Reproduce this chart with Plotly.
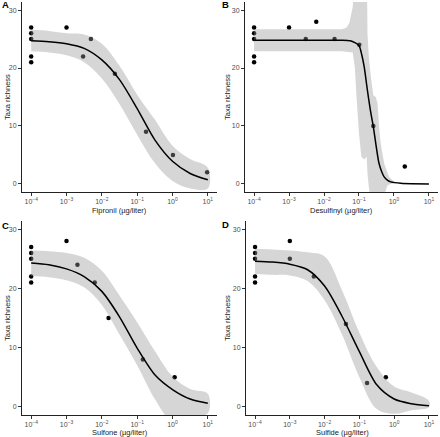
import plotly.graph_objects as go

# ---------------- data ----------------
panels = ["A", "B", "C", "D"]
x_titles = ["Fipronil (µg/liter)", "Desulfinyl (µg/liter)", "Sulfone (µg/liter)", "Sulfide (µg/liter)"]
y_title = "Taxa richness"

tick_vals = [1e-4, 1e-3, 1e-2, 1e-1, 1e0, 1e1]
tick_text = ["10<sup>−4</sup>", "10<sup>−3</sup>", "10<sup>−2</sup>", "10<sup>−1</sup>", "10<sup>0</sup>", "10<sup>1</sup>"]
y_tick_vals = [0, 10, 20, 30]

# observed points
a_pts_x = [1e-4, 1e-4, 1e-4, 1e-4, 1e-4, 1e-3, 0.00295, 0.0049, 0.0234, 0.178, 1.03, 9.55]
a_pts_y = [27, 26, 25, 22, 21, 27, 22, 25, 19, 9, 5, 2]
b_pts_x = [1e-4, 1e-4, 1e-4, 1e-4, 1e-4, 1e-3, 0.003, 0.006, 0.020, 0.102, 0.257, 2.04]
b_pts_y = [27, 26, 25, 22, 21, 27, 25, 28, 25, 24, 10, 3]
c_pts_x = [1e-4, 1e-4, 1e-4, 1e-4, 1e-4, 1e-3, 0.00204, 0.0063, 0.0155, 0.145, 1.15]
c_pts_y = [27, 26, 25, 22, 21, 28, 24, 21, 15, 8, 5]
d_pts_x = [1e-4, 1e-4, 1e-4, 1e-4, 1e-4, 1e-3, 1e-3, 0.0049, 0.041, 0.166, 0.575]
d_pts_y = [27, 26, 25, 22, 21, 28, 25, 22, 14, 4, 5]

# fitted curves and confidence bands (values read at grid concentrations)
grid_acd = [1e-4, 3.16e-4, 1e-3, 3.16e-3, 1e-2, 3.16e-2, 1e-1, 3.16e-1, 1e0, 3.16e0, 1e1]
a_fit = [24.7, 24.55, 24.2, 23.4, 21.4, 18.0, 13.0, 7.6, 3.9, 1.8, 0.7]
a_up = [26.6, 26.4, 26.0, 25.8, 24.2, 20.4, 15.4, 11.1, 6.6, 4.3, 2.8]
a_lo = [22.9, 22.7, 22.2, 21.0, 18.2, 13.8, 8.5, 3.6, 0.5, -0.8, -0.8]

c_fit = [24.3, 24.0, 23.3, 22.0, 19.5, 15.2, 9.9, 5.4, 2.9, 1.3, 0.6]
c_up = [26.4, 26.3, 26.0, 25.2, 23.0, 18.8, 14.3, 9.4, 5.1, 3.0, 2.2]
c_lo = [22.1, 21.9, 21.4, 20.2, 17.2, 12.2, 7.0, 1.3, -2.5, -1.8, -1.1]

d_fit = [24.6, 24.45, 24.1, 23.2, 20.4, 15.3, 9.3, 3.7, 1.3, 0.5, 0.15]
d_up = [26.7, 26.6, 26.4, 26.1, 25.4, 19.7, 12.5, 6.7, 3.4, 2.4, 1.0]
d_lo = [22.5, 22.3, 22.2, 21.3, 18.0, 12.2, 5.0, -0.4, -1.2, -0.6, -0.1]

b_fit_x = [1e-4, 1e-3, 1e-2, 0.0316, 0.0562, 0.0759, 0.100, 0.120, 0.141, 0.174,
           0.219, 0.257, 0.302, 0.372, 0.447, 0.525, 0.661, 0.813, 1.58, 3.16, 10.0]
b_fit = [24.8, 24.8, 24.8, 24.8, 24.7, 24.4, 23.9, 22.3, 20.2, 16.2,
         12.2, 9.9, 7.0, 3.6, 2.1, 1.2, 0.6, 0.35, 0.1, 0.02, 0.0]
b_band_x = [1e-4, 1e-3, 1e-2, 0.0316, 0.0427, 0.0525, 0.0661, 0.0759, 0.0851, 0.100,
            0.117, 0.141, 0.166, 0.175, 0.191, 0.219, 0.257, 0.302, 0.339, 0.376,
            0.417, 0.525, 0.646, 0.724, 1.0, 1.58, 3.16, 10.0]
b_up = [26.7, 26.7, 26.7, 26.7, 26.9, 27.7, 30.5, 40, 40, 40,
        40, 40, 40, 25.9, 22.0, 18.4, 15.3, 15.0, 13.9, 9.8,
        7.0, 3.5, 1.8, 1.2, 0.4, 0.15, 0.05, 0.02]
b_lo = [22.9, 22.9, 22.9, 22.9, 22.9, 22.8, 22.7, 20.2, 15.0, 8.7,
        4.7, 4.2, 4.7, 1.8, -0.5, -3, -3, -3, -3, -3,
        -3, -2, -0.3, -0.1, 0.1, 0.05, 0.0, 0.0]

pts = [(a_pts_x, a_pts_y), (b_pts_x, b_pts_y), (c_pts_x, c_pts_y), (d_pts_x, d_pts_y)]
fits = [(grid_acd, a_fit, grid_acd, a_up, a_lo, "spline"),
        (b_fit_x, b_fit, b_band_x, b_up, b_lo, "linear"),
        (grid_acd, c_fit, grid_acd, c_up, c_lo, "spline"),
        (grid_acd, d_fit, grid_acd, d_up, d_lo, "spline")]

# ---------------- layout geometry ----------------
W, H = 440, 437
x_dom = [[22 / W, 217 / W], [245 / W, 438 / W], [22 / W, 217 / W], [246 / W, 438 / W]]
y_dom = [[1 - 192 / H, 1 - 2 / H], [1 - 192 / H, 1 - 2 / H],
         [1 - 415 / H, 1 - 221 / H], [1 - 415 / H, 1 - 221 / H]]

fig = go.Figure()
FONT = "Liberation Sans, Arial, sans-serif"

for i in range(4):
    xa = "x" if i == 0 else f"x{i+1}"
    ya = "y" if i == 0 else f"y{i+1}"
    px_, py_ = pts[i]
    fx, fy, bx, bu, bl, shape = fits[i]
    fig.add_trace(go.Scatter(x=px_, y=py_, mode="markers", xaxis=xa, yaxis=ya,
                             marker=dict(color="black", size=4.5, line=dict(width=0)),
                             showlegend=False, hoverinfo="skip"))
    fig.add_trace(go.Scatter(x=list(bx) + list(bx)[::-1], y=list(bu) + list(bl)[::-1],
                             mode="lines", fill="toself", xaxis=xa, yaxis=ya,
                             fillcolor="rgba(153,153,153,0.4)", line=dict(width=0, shape=shape),
                             showlegend=False, hoverinfo="skip"))
    fig.add_trace(go.Scatter(x=fx, y=fy, mode="lines", xaxis=xa, yaxis=ya,
                             line=dict(color="black", width=1.5, shape="spline", smoothing=0.8),
                             showlegend=False, hoverinfo="skip"))

axis_common = dict(showline=True, linecolor="#222", linewidth=1, ticks="outside", ticklen=3,
                   tickcolor="#333", tickwidth=1, showgrid=False, zeroline=False,
                   tickfont=dict(size=7, color="#4d4d4d", family=FONT))
layout = dict(width=W, height=H, margin=dict(l=0, r=0, t=0, b=0),
              paper_bgcolor="white", plot_bgcolor="white", showlegend=False)
for i in range(4):
    kx = "xaxis" if i == 0 else f"xaxis{i+1}"
    ky = "yaxis" if i == 0 else f"yaxis{i+1}"
    ya = "y" if i == 0 else f"y{i+1}"
    xa = "x" if i == 0 else f"x{i+1}"
    layout[kx] = dict(axis_common, type="log", domain=x_dom[i], anchor=ya,
                      range=[-4.26, 1.26], tickvals=tick_vals, ticktext=tick_text)
    layout[ky] = dict(axis_common, domain=y_dom[i], anchor=xa,
                      range=[-1.4, 31.4], tickvals=y_tick_vals)
fig.update_layout(**layout)

ann = []
letter_pos = [(5, 5), (225, 5), (5, 225), (225, 224)]
xt_pos = [(119.5, 210.5), (341.5, 210.5), (119.5, 432), (342, 432)]
yt_pos = [(7, 97), (227, 97), (7, 318), (227, 318)]
for i in range(4):
    lx, ly = letter_pos[i]
    ann.append(dict(x=lx / W, y=1 - ly / H, xref="paper", yref="paper", text=f"<b>{panels[i]}</b>",
                    xanchor="center", yanchor="middle",
                    showarrow=False, font=dict(size=9.5, color="black", family=FONT)))
    tx, ty = xt_pos[i]
    ann.append(dict(x=tx / W, y=1 - ty / H, xref="paper", yref="paper", text=x_titles[i],
                    xanchor="center", yanchor="middle",
                    showarrow=False, font=dict(size=7.5, color="#222", family=FONT)))
    sx, sy = yt_pos[i]
    ann.append(dict(x=sx / W, y=1 - sy / H, xref="paper", yref="paper", text=y_title, textangle=-90,
                    xanchor="center", yanchor="middle",
                    showarrow=False, font=dict(size=7.5, color="#222", family=FONT)))
fig.update_layout(annotations=ann)

fig.write_html("out.html", config={"displayModeBar": False, "staticPlot": True},
               post_script="document.body.style.margin='0';document.body.style.overflow='hidden';")
